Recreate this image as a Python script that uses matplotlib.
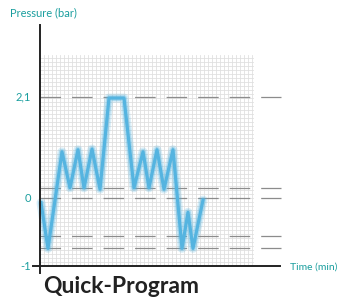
import numpy as np
import matplotlib.pyplot as plt

plt.rcParams['lines.scale_dashes'] = False

# schematic pressure profile (y: 0 -> 0 bar, -1 -> -1 bar, axis is not to scale)
t = [0.1, 0.8, 2.2, 3.0, 3.8, 4.4, 5.2, 6.0, 6.9, 8.4, 9.4, 10.3, 10.9, 11.7,
     12.4, 13.3, 14.2, 14.8, 15.3, 16.3]
p = [-0.07, -0.74, 0.68, 0.15, 0.71, 0.15, 0.72, 0.13, 1.47, 1.47, 0.15, 0.68,
     0.15, 0.71, 0.13, 0.71, -0.74, -0.21, -0.74, -0.03]

levels = [1.485, 0.147, 0.0, -0.56, -0.74]
tick_pos = [1.485, 0.0, -1.0]
tick_lab = ['2,1', '0', '-1']

teal = '#1a9e9e'
blue = '#55b4e0'

fig = plt.figure(figsize=(3.39, 3.02), dpi=100)
ax = fig.add_axes([0, 0, 1, 1])
ax.set_xlim(-4, 29.9)
ax.set_ylim(-1.529, 2.912)
ax.axis('off')

# graph paper background
for gx in np.arange(0, 21.35, 0.4):
    ax.plot([gx, gx], [-1, 2.1], color='#e0e0e0', lw=0.6, zorder=1)
for gy in np.arange(-1, 2.11, 0.0588):
    ax.plot([0, 21.3], [gy, gy], color='#e0e0e0', lw=0.6, zorder=1)

# dashed reference levels
for lv in levels:
    ax.plot([0, 24.1], [lv, lv], color='#8c8c8c', lw=0.9,
            dashes=(14.8, 7.9), zorder=2)

# axes
ax.plot([0, 0], [-1.1, 2.55], color='#222222', lw=1.4, zorder=5)
ax.plot([-0.7, 24.0], [-1, -1], color='#222222', lw=1.4, zorder=5)

# pressure curve with soft glow
ax.plot(t, p, color=blue, lw=6.5, alpha=0.22, solid_joinstyle='round',
        solid_capstyle='round', zorder=3)
ax.plot(t, p, color=blue, lw=4.2, alpha=0.35, solid_joinstyle='round',
        solid_capstyle='round', zorder=3)
ax.plot(t, p, color=blue, lw=2.3, solid_joinstyle='round', zorder=4)

for yv, lab in zip(tick_pos, tick_lab):
    ax.text(-0.9, yv, lab, color=teal, fontsize=8, family='Lato',
            ha='right', va='center')

ax.text(-3.0, 2.72, 'Pressure (bar)', color=teal, fontsize=8, family='Lato',
        ha='left', va='center')
ax.text(25.0, -1.01, 'Time (min)', color=teal, fontsize=7.5, family='Lato',
        ha='left', va='center')
ax.text(0.3, -1.30, 'Quick-Program', color='#222222', fontsize=16.5,
        family='Lato', weight='bold', ha='left', va='center')

fig.savefig('out.png', dpi=100)
